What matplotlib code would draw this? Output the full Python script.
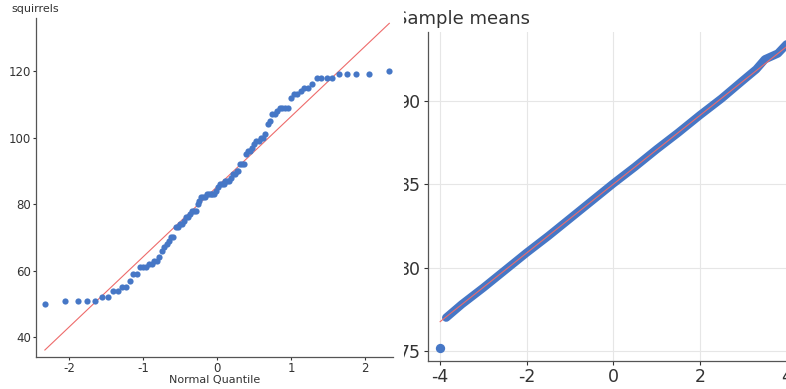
import matplotlib
matplotlib.use("Agg")
import matplotlib.pyplot as plt
from matplotlib.transforms import Bbox, TransformedBbox
from statistics import NormalDist

# left panel: sorted squirrel counts
squirrels = [50, 51, 51, 51, 51, 52, 52, 54, 54, 55,
             55, 57, 59, 59, 61, 61, 61, 62, 62, 63,
             63, 64, 66, 67, 68, 69, 70, 70, 73, 73,
             74, 74, 75, 76, 76, 77, 78, 78, 78, 80,
             81, 82, 82, 82, 83, 83, 83, 83, 83, 84,
             85, 86, 86, 86, 87, 87, 87, 88, 89, 89,
             90, 90, 92, 92, 92, 95, 96, 96, 97, 98,
             99, 99, 100, 100, 101, 104, 105, 107, 107, 108,
             109, 109, 109, 109, 112, 113, 113, 114, 115, 115,
             116, 118, 118, 118, 118, 119, 119, 119, 119, 120]
sq_fit_x = [-2.33, 2.33]
sq_fit_y = [36.2, 134.3]

# right panel: sample means band
means_q = [-3.86, -3.5, -3.0, -2.5, -2.0, -1.5, -1.0, -0.5, 0.0,
           0.5, 1.0, 1.5, 2.0, 2.5, 3.0, 3.3, 3.5, 3.8, 4.0]
means_y = [77.0, 77.8, 78.8, 79.85, 80.9, 81.9, 82.95, 84.0, 85.05,
           86.05, 87.1, 88.1, 89.15, 90.15, 91.25, 91.9, 92.5, 92.85, 93.4]
outlier_q = [-4.0]
outlier_y = [75.2]
means_fit_x = [-4.0, 4.0]
means_fit_y = [76.76, 93.26]

n = len(squirrels)
quant = [NormalDist().inv_cdf(i / (n + 1)) for i in range(1, n + 1)]

blue = "#4677C6"
red = "#EE6B6B"
spine = "#555555"
plt.rcParams["axes.unicode_minus"] = False
plt.rcParams["font.family"] = "DejaVu Sans"

W, H = 786, 389
fig = plt.figure(figsize=(W / 100, H / 100), dpi=100)

# ---- left panel
ax = fig.add_axes([36 / W, 1 - 357 / H, (393 - 36) / W, (357 - 18) / H])
ax.scatter(quant, squirrels, s=20, color=blue, zorder=3, linewidths=0)
ax.plot(sq_fit_x, sq_fit_y, color=red, lw=0.8, zorder=2)
ax.set_xlim(-2.45, 2.38)
ax.set_ylim(34.1, 135.9)
ax.set_xticks([-2, -1, 0, 1, 2])
ax.set_yticks([40, 60, 80, 100, 120])
for s in ["top", "right"]:
    ax.spines[s].set_visible(False)
for s in ["left", "bottom"]:
    ax.spines[s].set_color(spine)
    ax.spines[s].set_linewidth(0.9)
ax.tick_params(labelsize=8.5, colors="#333333", length=2, width=0.8, pad=1.5)
ax.set_xlabel("Normal Quantile", fontsize=8, color="#333333", labelpad=0)
fig.text(11 / W, 1 - 9 / H, "squirrels", fontsize=8, color="#333333",
         ha="left", va="center")

# ---- right panel (cropped on the left and right)
ax2 = fig.add_axes([428 / W, 1 - 361 / H, 8.58 * 43.3 / W, (361 - 32) / H])
ax2.plot(means_q, means_y, color=blue, lw=6, solid_capstyle="round", zorder=3)
ax2.scatter(outlier_q, outlier_y, s=45, color=blue, zorder=3, linewidths=0)
ax2.plot(means_fit_x, means_fit_y, color=red, lw=0.8, zorder=4)
ax2.set_xlim(-4.28, 4.3)
ax2.set_ylim(74.4, 94.14)
ax2.set_xticks([-4, -2, 0, 2, 4])
ax2.set_yticks([75, 80, 85, 90])
ax2.grid(color="#E6E6E6", lw=0.8)
ax2.set_axisbelow(True)
for s in ["top", "right"]:
    ax2.spines[s].set_visible(False)
for s in ["left", "bottom"]:
    ax2.spines[s].set_color(spine)
    ax2.spines[s].set_linewidth(0.9)
ax2.tick_params(labelsize=12.5, colors="#333333", length=3, width=0.8, pad=2)
ax2.set_xlabel("Normal Quantile", fontsize=12.5, color="#333333", labelpad=8)

clip = TransformedBbox(Bbox.from_extents(404 / W, 0, 1, 1), fig.transFigure)
title = fig.text(396 / W, 1 - 19 / H, "Sample means", fontsize=13,
                 color="#333333", ha="left", va="center")
for t in [title] + ax2.get_yticklabels():
    t.set_clip_box(clip)
    t.set_clip_on(True)

fig.savefig("out.png", dpi=100)
